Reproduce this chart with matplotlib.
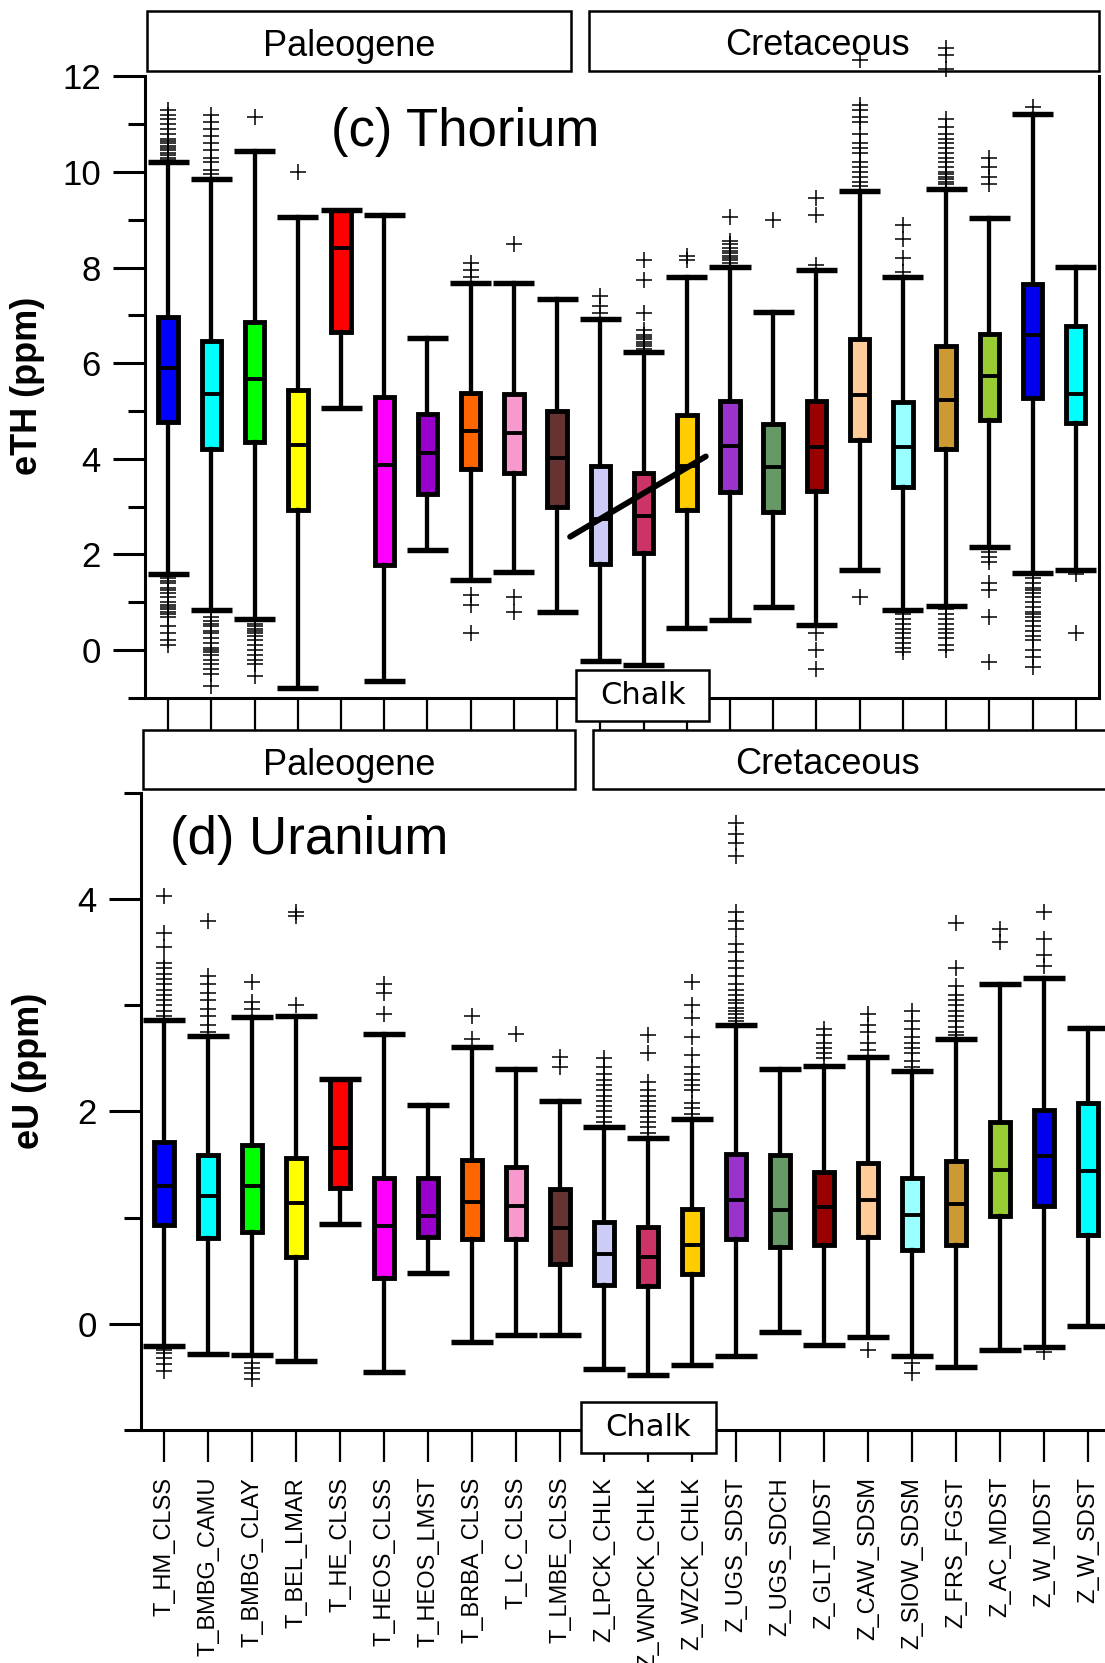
import matplotlib
matplotlib.use("Agg")
import matplotlib.pyplot as plt
from matplotlib.patches import Rectangle

plt.rcParams['font.family'] = ['Liberation Sans', 'DejaVu Sans']

# ---- data ---------------------------------------------------------------
labels = ["T_HM_CLSS", "T_BMBG_CAMU", "T_BMBG_CLAY", "T_BEL_LMAR", "T_HE_CLSS",
          "T_HEOS_CLSS", "T_HEOS_LMST", "T_BRBA_CLSS", "T_LC_CLSS", "T_LMBE_CLSS",
          "Z_LPCK_CHLK", "Z_WNPCK_CHLK", "Z_WZCK_CHLK", "Z_UGS_SDST", "Z_UGS_SDCH",
          "Z_GLT_MDST", "Z_CAW_SDSM", "Z_SIOW_SDSM", "Z_FRS_FGST", "Z_AC_MDST",
          "Z_W_MDST", "Z_W_SDST"]

colors = ["#0000ff", "#00ffff", "#00ff00", "#ffff00", "#ff0000", "#ff00ff",
          "#9900cc", "#ff6600", "#f799cc", "#663333", "#ccccf7", "#cc3366",
          "#ffcc00", "#9933cc", "#669966", "#990000", "#ffcc99", "#99ffff",
          "#cc9933", "#99cc33", "#0000ee", "#00ffff"]

# Thorium (ppm): q1, median, q3, lower whisker, upper whisker
th_q1 = [4.78, 4.21, 4.36, 2.92, 6.65, 1.77, 3.26, 3.78, 3.70, 3.00, 1.79,
         2.02, 2.92, 3.30, 2.89, 3.33, 4.40, 3.42, 4.21, 4.81, 5.27, 4.74]
th_med = [5.89, 5.35, 5.67, 4.28, 8.41, 3.87, 4.13, 4.58, 4.55, 4.01, 2.74,
          2.81, 3.85, 4.26, 3.83, 4.24, 5.34, 4.24, 5.23, 5.73, 6.58, 5.36]
th_q3 = [6.96, 6.47, 6.86, 5.44, 9.21, 5.30, 4.93, 5.38, 5.36, 4.99, 3.85,
         3.70, 4.92, 5.20, 4.73, 5.20, 6.51, 5.18, 6.37, 6.61, 7.66, 6.77]
th_lo = [1.59, 0.83, 0.66, -0.79, 5.06, -0.65, 2.10, 1.47, 1.63, 0.79, -0.23,
         -0.31, 0.47, 0.63, 0.90, 0.52, 1.68, 0.83, 0.92, 2.16, 1.61, 1.68]
th_hi = [10.21, 9.86, 10.44, 9.06, 9.21, 9.11, 6.53, 7.67, 7.67, 7.35, 6.93,
         6.23, 7.80, 8.02, 7.07, 7.95, 9.61, 7.81, 9.65, 9.04, 11.22, 8.02]
th_out = [
    [10.25, 10.3, 10.35, 10.4, 10.45, 10.5, 10.55, 10.6, 10.65, 10.7, 10.8, 10.9,
     11.0, 11.1, 11.2, 11.3, 1.5, 1.45, 1.4, 1.3, 1.25, 1.2, 1.1, 1.0, 0.95, 0.9,
     0.85, 0.8, 0.75, 0.7, 0.5, 0.35, 0.2, 0.1],
    [9.95, 10.05, 10.2, 10.3, 10.45, 10.6, 10.75, 10.9, 11.05, 11.2, 0.7, 0.6,
     0.55, 0.5, 0.4, 0.35, 0.25, 0.15, 0.05, 0.0, -0.05, -0.1, -0.2, -0.3, -0.4,
     -0.5, -0.75],
    [11.15, 0.55, 0.5, 0.45, 0.4, 0.35, 0.3, 0.2, 0.1, 0.0, -0.1, -0.2, -0.3, -0.55],
    [10.0],
    [],
    [],
    [],
    [7.8, 7.95, 8.1, 1.15, 0.95, 0.35],
    [8.5, 1.1, 0.8],
    [],
    [7.05, 7.2, 7.4],
    [6.3, 6.35, 6.4, 6.45, 6.5, 6.55, 6.6, 6.7, 7.05, 7.75, 8.15],
    [8.15, 8.25],
    [8.1, 8.15, 8.2, 8.25, 8.3, 8.35, 8.4, 8.5, 8.55, 9.05],
    [9.0],
    [8.05, 9.1, 9.45, 0.35, 0.0, -0.4],
    [9.7, 9.8, 9.9, 10.0, 10.1, 10.2, 10.4, 10.5, 10.6, 10.8, 11.05, 11.15, 11.3,
     11.4, 12.35, 1.1],
    [7.9, 8.2, 8.6, 8.9, 0.75, 0.65, 0.55, 0.45, 0.35, 0.25, 0.15, 0.05, -0.05],
    [9.75, 9.8, 9.85, 9.9, 9.95, 10.0, 10.1, 10.2, 10.3, 10.4, 10.5, 10.6, 10.7,
     10.8, 10.95, 11.1, 12.15, 12.45, 12.6, 0.85, 0.75, 0.65, 0.55, 0.45, 0.35,
     0.25, 0.1, 0.0],
    [9.75, 9.9, 10.1, 10.3, 2.05, 1.95, 1.85, 1.4, 1.25, 0.7, -0.25],
    [11.35, 1.5, 1.4, 1.3, 1.25, 1.2, 1.1, 1.0, 0.9, 0.8, 0.75, 0.7, 0.6, 0.5,
     0.4, 0.3, 0.2, 0.0, -0.15, -0.35],
    [1.6, 0.35],
]

# trend across the chalk units (Thorium panel)
trend_x = [10.3, 13.44]
trend_y = [2.37, 4.05]

# Uranium (ppm)
u_q1 = [0.93, 0.81, 0.86, 0.63, 1.28, 0.43, 0.82, 0.80, 0.80, 0.56, 0.36,
        0.35, 0.47, 0.80, 0.72, 0.74, 0.82, 0.69, 0.74, 1.01, 1.11, 0.84]
u_med = [1.30, 1.20, 1.30, 1.14, 1.66, 0.92, 1.01, 1.15, 1.11, 0.90, 0.66,
         0.63, 0.74, 1.17, 1.07, 1.10, 1.17, 1.02, 1.13, 1.45, 1.58, 1.44]
u_q3 = [1.71, 1.59, 1.68, 1.56, 2.31, 1.37, 1.37, 1.54, 1.48, 1.27, 0.96,
        0.91, 1.08, 1.60, 1.59, 1.43, 1.51, 1.37, 1.53, 1.90, 2.01, 2.08]
u_lo = [-0.21, -0.29, -0.30, -0.35, 0.94, -0.46, 0.48, -0.17, -0.11, -0.11,
        -0.43, -0.48, -0.39, -0.31, -0.08, -0.20, -0.13, -0.31, -0.41, -0.25,
        -0.22, -0.02]
u_hi = [2.86, 2.71, 2.89, 2.90, 2.31, 2.73, 2.06, 2.61, 2.40, 2.10, 1.85,
        1.75, 1.93, 2.82, 2.40, 2.43, 2.51, 2.38, 2.68, 3.20, 3.26, 2.79]
u_out = [
    [2.9, 2.95, 3.0, 3.05, 3.1, 3.15, 3.2, 3.25, 3.3, 3.35, 3.4, 3.55, 3.68, 4.03,
     -0.25, -0.28, -0.32, -0.38, -0.45],
    [2.75, 2.82, 2.9, 2.97, 3.05, 3.12, 3.2, 3.28, 3.8],
    [2.97, 3.03, 3.22, -0.37, -0.42, -0.47, -0.52],
    [3.0, 3.84, 3.88],
    [],
    [2.92, 3.12, 3.2],
    [],
    [2.68, 2.9],
    [2.73],
    [2.42, 2.51],
    [1.9, 1.95, 2.0, 2.05, 2.1, 2.15, 2.2, 2.25, 2.3, 2.35, 2.42, 2.5],
    [1.8, 1.85, 1.9, 1.95, 2.0, 2.05, 2.1, 2.15, 2.2, 2.28, 2.55, 2.72],
    [1.98, 2.03, 2.08, 2.2, 2.25, 2.3, 2.35, 2.42, 2.53, 2.7, 2.88, 3.0, 3.22],
    [2.85, 2.88, 2.92, 2.95, 2.98, 3.02, 3.05, 3.1, 3.15, 3.2, 3.28, 3.35, 3.42,
     3.5, 3.58, 3.72, 3.8, 3.88, 4.41, 4.53, 4.62, 4.72],
    [],
    [2.5, 2.55, 2.6, 2.65, 2.72, 2.78],
    [2.58, 2.65, 2.75, 2.82, 2.92, -0.25],
    [2.42, 2.48, 2.55, 2.6, 2.65, 2.7, 2.78, 2.85, 2.95, -0.37, -0.47],
    [2.72, 2.75, 2.8, 2.85, 2.9, 2.95, 3.0, 3.05, 3.1, 3.18, 3.35, 3.78],
    [3.6, 3.72],
    [3.37, 3.48, 3.63, 3.88, -0.27],
    [],
]

# ---- layout helpers (reference pixel grid 1042 x 1568) --------------------
W, H = 1042.0, 1568.0


def fx(x):
    return x / W


def fy(y):
    return 1 - y / H


fig = plt.figure(figsize=(11.05, 16.63), dpi=100)


def box_stats(q1, med, q3, lo, hi, out):
    stats = []
    for i in range(len(q1)):
        stats.append(dict(q1=q1[i], med=med[i], q3=q3[i], whislo=lo[i],
                          whishi=hi[i], fliers=out[i]))
    return stats


def draw_panel(ax, stats):
    pos = list(range(1, len(stats) + 1))
    res = ax.bxp(stats, positions=pos, widths=0.45, capwidths=0.95,
                 patch_artist=True, manage_ticks=False,
                 boxprops=dict(linewidth=3.5, edgecolor="black"),
                 whiskerprops=dict(linewidth=3.1, color="black"),
                 capprops=dict(linewidth=3.9, color="black"),
                 medianprops=dict(linewidth=2.8, color="black"),
                 flierprops=dict(marker="+", markersize=11, markeredgewidth=1.1,
                                 markeredgecolor="black", linestyle="none"))
    for b, c in zip(res["boxes"], colors):
        b.set_facecolor(c)
    for f in res["fliers"]:
        f.set_clip_on(False)
    for c in res["caps"]:
        c.set_solid_capstyle("butt")
    ax.set_xlim(0.47, 22.53)
    ax.set_xticks(pos)
    ax.spines["top"].set_visible(False)
    for s in ("left", "bottom", "right"):
        ax.spines[s].set_linewidth(2.2)
    ax.tick_params(axis="y", which="major", length=23, width=2.2,
                   labelsize=25, pad=9)
    ax.tick_params(axis="y", which="minor", length=12, width=2.2)
    ax.tick_params(axis="x", which="major", length=23, width=1.6, pad=11)


def fig_box(ax, x0, x1, y0, y1, text, size, tx, ty, z=0.5, family=None):
    r = Rectangle((fx(x0), fy(y1)), fx(x1) - fx(x0), fy(y0) - fy(y1),
                  transform=fig.transFigure, facecolor="white",
                  edgecolor="black", linewidth=1.8, clip_on=False, zorder=z)
    ax.add_artist(r)
    kw = {}
    if family:
        kw["family"] = family
    ax.text(fx(tx), fy(ty), text, transform=fig.transFigure,
            ha="center", va="center", fontsize=size, zorder=z + 0.1,
            clip_on=False, **kw)


# ---- (c) Thorium -----------------------------------------------------------
ax_c = fig.add_axes([fx(137), fy(658), fx(1036) - fx(137), fy(72) - fy(658)])
draw_panel(ax_c, box_stats(th_q1, th_med, th_q3, th_lo, th_hi, th_out))
ax_c.plot(trend_x, trend_y, color="black", linewidth=4.2,
          solid_capstyle="round", zorder=5)
ax_c.set_ylim(-1, 12)
ax_c.set_yticks([0, 2, 4, 6, 8, 10, 12])
ax_c.set_yticks([-1, 1, 3, 5, 7, 9, 11], minor=True)
ax_c.set_xticklabels([])
fig_box(ax_c, 139, 538, 10, 67, "Paleogene", 26, 329, 44)
fig_box(ax_c, 555, 1036, 10, 67, "Cretaceous", 26, 771, 43)
fig_box(ax_c, 543, 669, 632, 680, "Chalk", 22, 606, 656, z=10,
        family="DejaVu Sans")
ax_c.text(fx(312), fy(124), "(c) Thorium", transform=fig.transFigure,
          ha="left", va="center", fontsize=38)
fig.text(fx(26), fy(364), "eTH (ppm)", rotation=90, ha="center", va="center",
         fontsize=26, fontweight="bold")

# ---- (d) Uranium -----------------------------------------------------------
ax_d = fig.add_axes([fx(133), fy(1348), fx(1048) - fx(133), fy(748) - fy(1348)])
draw_panel(ax_d, box_stats(u_q1, u_med, u_q3, u_lo, u_hi, u_out))
ax_d.set_ylim(-1, 5)
ax_d.set_yticks([0, 2, 4])
ax_d.set_yticks([-1, 1, 3, 5], minor=True)
ax_d.set_xticklabels(labels, rotation=90, fontsize=17, va="top")
fig_box(ax_d, 135, 542, 688, 744, "Paleogene", 26, 329, 722)
fig_box(ax_d, 559, 1060, 688, 744, "Cretaceous", 26, 780, 721)
fig_box(ax_d, 548, 675, 1322, 1370, "Chalk", 22, 611, 1346, z=10,
        family="DejaVu Sans")
ax_d.text(fx(160), fy(792), "(d) Uranium", transform=fig.transFigure,
          ha="left", va="center", fontsize=38)
fig.text(fx(28), fy(1010), "eU (ppm)", rotation=90, ha="center", va="center",
         fontsize=26, fontweight="bold")

fig.savefig("out.png", dpi=100)
